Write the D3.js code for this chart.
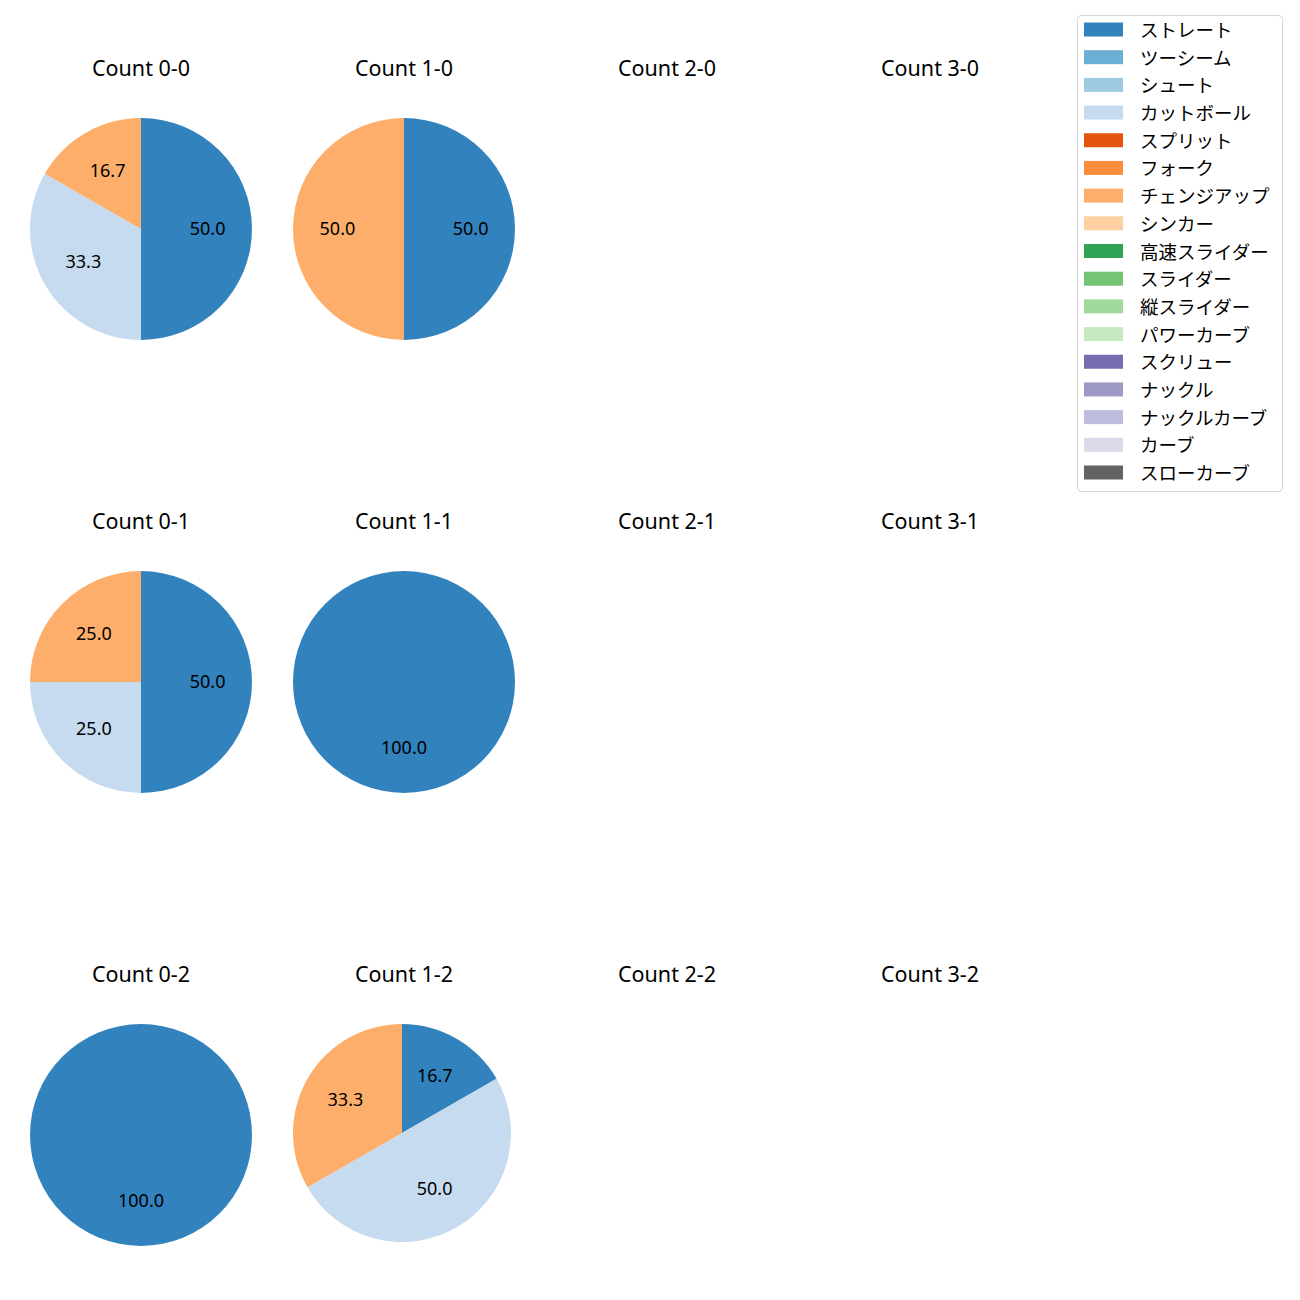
<!DOCTYPE html>
<html>
<head>
<meta charset="utf-8">
<script src="https://cdn.jsdelivr.net/npm/d3@7"></script>
<style>
  body { margin: 0; background: #fff; }
  svg text { font-family: "Noto Sans", "Noto Sans CJK JP", sans-serif; }
</style>
</head>
<body>
<div id="chart"></div>
<script>
// pitch types and colours (tab20c)
var pitchTypes = ["ストレート", "ツーシーム", "シュート", "カットボール", "スプリット", "フォーク",
  "チェンジアップ", "シンカー", "高速スライダー", "スライダー", "縦スライダー", "パワーカーブ",
  "スクリュー", "ナックル", "ナックルカーブ", "カーブ", "スローカーブ"];
var pitchColors = ["#3182bd", "#6baed6", "#9ecae1", "#c6dbef", "#e6550d", "#fd8d3c",
  "#fdae6b", "#fdd0a2", "#31a354", "#74c476", "#a1d99b", "#c7e9c0",
  "#756bb1", "#9e9ac8", "#bcbddc", "#dadaeb", "#636363"];

var balls = [0, 1, 2, 3];
var strikes = [0, 1, 2];

// share (%) per count "balls-strikes" (only nonzero pitch types listed)
var count00 = { "ストレート": 50.0, "カットボール": 33.3, "チェンジアップ": 16.7 };
var count10 = { "ストレート": 50.0, "チェンジアップ": 50.0 };
var count01 = { "ストレート": 50.0, "カットボール": 25.0, "チェンジアップ": 25.0 };
var count11 = { "ストレート": 100.0 };
var count02 = { "ストレート": 100.0 };
var count12 = { "ストレート": 16.7, "カットボール": 50.0, "チェンジアップ": 33.3 };
var countData = { "0-0": count00, "1-0": count10, "0-1": count01, "1-1": count11, "0-2": count02, "1-2": count12 };

var svgWidth = 1300;
var svgHeight = 1300;

var svg = d3.select("#chart")
  .append("svg")
  .attr("width", svgWidth)
  .attr("height", svgHeight);

var colX = d3.scaleLinear().domain([0, 3]).range([141, 930]);
var rowY = d3.scaleLinear().domain([0, 2]).range([229, 1135]);
var radius = 111;

var color = d3.scaleOrdinal().domain(pitchTypes).range(pitchColors);

var pie = d3.pie()
  .sort(null)
  .value(d => d.value)
  .startAngle(0)
  .endAngle(2 * Math.PI);

strikes.forEach(function(s) {
  balls.forEach(function(b) {
    var key = b + "-" + s;
    var cx = colX(b);
    var cy = rowY(s);

    svg.append("text")
      .attr("x", cx)
      .attr("y", cy - 153)
      .attr("text-anchor", "middle")
      .attr("font-size", "21.5px")
      .style("fill", "#000")
      .text("Count " + key);

    var d = countData[key];
    if (!d) return;

    // the 1-2 pie comes out a touch smaller in the original
    var r = radius;
    var offX = 0, offY = 0;
    if (key === "1-2") { r = 109; offX = -2; offY = -2; }

    var slices = pitchTypes.filter(p => d[p]).map(p => ({ name: p, value: d[p] }));
    var arcs = pie(slices);
    var arc = d3.arc().innerRadius(0).outerRadius(r);

    var g = svg.append("g")
      .attr("transform", `translate(${cx + offX}, ${cy + offY})`);

    g.selectAll("path")
      .data(arcs)
      .enter()
      .append("path")
      .attr("d", arc)
      .style("fill", a => color(a.data.name));

    g.selectAll("text")
      .data(arcs)
      .enter()
      .append("text")
      .attr("x", a => 0.6 * r * Math.sin((a.startAngle + a.endAngle) / 2))
      .attr("y", a => -0.6 * r * Math.cos((a.startAngle + a.endAngle) / 2) - 1.5)
      .attr("text-anchor", "middle")
      .attr("dominant-baseline", "central")
      .attr("font-size", "18px")
      .style("fill", "#000")
      .text(a => a.data.value.toFixed(1));
  });
});

// legend
var legend = svg.append("g");
legend.append("rect")
  .attr("x", 1077.5)
  .attr("y", 15.5)
  .attr("width", 205)
  .attr("height", 476)
  .attr("rx", 4)
  .style("fill", "#fff")
  .style("stroke", "#d5d5d5")
  .style("stroke-width", 1);

var legY = d3.scaleLinear().domain([0, pitchTypes.length - 1]).range([29.5, 472.5]);

var items = legend.selectAll("g.item")
  .data(pitchTypes)
  .enter()
  .append("g")
  .attr("transform", (p, i) => `translate(0, ${legY(i)})`);

items.append("rect")
  .attr("x", 1084)
  .attr("y", -7)
  .attr("width", 39)
  .attr("height", 14)
  .style("fill", p => color(p));

items.append("text")
  .attr("x", 1140)
  .attr("y", 0)
  .attr("dominant-baseline", "central")
  .attr("font-size", "18.5px")
  .style("fill", "#000")
  .text(p => p);
</script>
</body>
</html>
